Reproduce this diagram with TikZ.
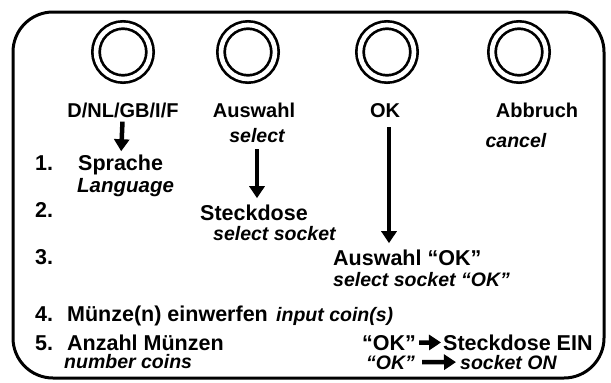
\documentclass[tikz,border=0pt]{standalone}
\usepackage{fontspec}
\setmainfont{Liberation Sans}
\usetikzlibrary{arrows.meta, positioning}

\tikzset{
  knob/.style={circle, draw, double, double distance=4.6pt, line width=2.7pt, minimum size=54pt, inner sep=0pt},
  btn/.style={font=\fontsize{20}{22}\selectfont\bfseries, inner sep=0pt, anchor=base},
  de/.style={font=\fontsize{21.5}{24}\selectfont\bfseries, inner sep=0pt, anchor=base west},
  en/.style={font=\fontsize{19.5}{22}\selectfont\bfseries\itshape, inner sep=0pt, anchor=base west},
  fat/.style={line width=4.5pt, -{Triangle[length=12pt, width=15pt]}},
}

\begin{document}
\begin{tikzpicture}[x=1pt, y=-1pt]
  \useasboundingbox (0,0) rectangle (611,383);
  \draw[line width=3pt, rounded corners=40pt] (13,12) rectangle (604,378);

  % buttons
  \node[knob] (k1) at (123,52) {};
  \node[knob] (k2) at (248,52) {};
  \node[knob] (k3) at (387,52) {};
  \node[knob] (k4) at (519,52) {};

  \node[btn] (lang) at (123,117) {D/NL/GB/I/F};
  \node[btn] (sel) at (254,117) {Auswahl};
  \node[btn] (ok) at (385,117) {OK};
  \node[btn] (abb) at (537,117) {Abbruch};
  \node[en, anchor=base] (selen) at (257,142) {select};
  \node[en, anchor=base] (canc) at (516,147) {cancel};

  % steps
  \node[de] (n1) at (35,170) {1.};
  \node[de] (spr) at (78,170) {Sprache};
  \node[en, font=\fontsize{20.5}{22}\selectfont\bfseries\itshape] (lng) at (77,192) {Language};
  \node[de] (n2) at (35,217) {2.};
  \node[de] (steck) at (200,220) {Steckdose};
  \node[en] (selsock) at (213,240) {select socket};
  \node[de] (n3) at (35,264) {3.};
  \node[de] (aok) at (333,265) {Auswahl “OK”};
  \node[en] (selok) at (333,286) {select socket “OK”};
  \node[de] (n4) at (35,321) {4.};
  \node[de] (coin) at (67,321) {Münze(n) einwerfen};
  \node[en] (coinen) at (276,321) {input coin(s)};
  \node[de] (n5) at (35,350) {5.};
  \node[de] (anz) at (67,350) {Anzahl Münzen};
  \node[en] (num) at (64,368) {number coins};
  \node[de] (ok1) at (362,350) {“OK”};
  \node[de] (ein) at (443,350) {Steckdose EIN};
  \node[en] (ok2) at (366,369) {“OK”};
  \node[en] (son) at (460,369) {socket ON};

  \draw
  (lang) edge[fat, shorten <=4pt, shorten >=3pt] (spr)
  (selen.south) edge[fat, shorten <=7pt, shorten >=6pt] (selen.south |- steck.north)
  ([xshift=4pt]ok.south) edge[fat, shorten <=10pt, shorten >=6pt] ([xshift=4pt]ok.south |- aok.north)
  (ok1) edge[fat, shorten <=3pt, shorten >=2pt] (ein)
  (ok2) edge[fat, shorten <=7pt, shorten >=4pt] (son);
\end{tikzpicture}
\end{document}
